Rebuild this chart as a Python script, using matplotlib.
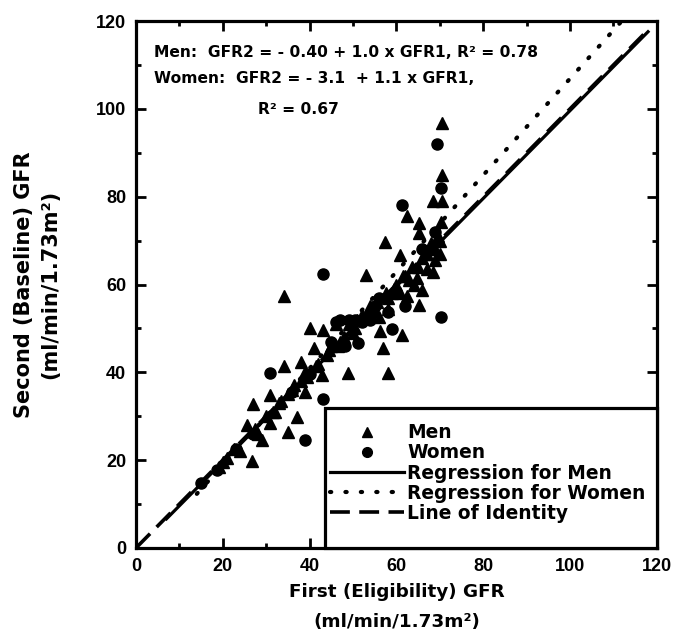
import matplotlib.pyplot as plt
from matplotlib.lines import Line2D
from matplotlib.patches import Rectangle
from matplotlib.ticker import MultipleLocator

plt.rcParams['font.family'] = ['DejaVu Sans']
plt.rcParams['font.weight'] = 'bold'

# Men (triangles): first GFR, second GFR
men_gfr1 = [24, 25.5, 26.7, 26.9, 28, 29, 30, 30.9, 30.9, 32, 33, 34.1, 34.1, 35, 35.1,
            36, 37, 37.9, 38.9, 38, 39, 40.1, 41.0, 42, 42.8, 43.2, 44, 45, 46, 47,
            48, 48.9, 49, 50, 51, 52, 53.1, 54, 55, 56.2, 57, 57.4, 58.1, 58, 59,
            60, 60.8, 61.2, 62, 62.4, 63, 64, 65.3, 65.3, 65.3, 65, 66, 67, 68.4, 68.5,
            69, 70.4, 70.4, 70.4, 70.3, 70, 21, 19,
            20, 22.5, 27.5, 31.5, 33.5, 36.5, 39.5, 41.5, 44.5, 46.5, 50.5, 53.5, 55.5,
            57.5, 59.5, 61.5, 63.5, 66.5, 68, 69.5,
            56, 58, 60.8, 62.4, 64.7, 65.8, 67, 69, 70]
men_gfr2 = [22, 28, 19.7, 32.8, 26, 24.6, 30, 28.5, 34.9, 31, 33, 41.5, 57.4, 35, 26.5,
            36, 29.8, 42.4, 35.6, 38, 40, 50.0, 45.5, 42, 39.4, 49.7, 44, 46, 51, 47,
            48, 39.8, 51, 49, 52, 53, 62.2, 55, 54, 49.5, 45.5, 69.8, 39.8, 57, 58,
            60, 66.7, 48.5, 62, 75.6, 61, 60, 55.3, 74.1, 71.7, 64, 66, 67, 79, 62.9,
            68, 79, 85, 96.7, 74.3, 70, 20.5, 18.5,
            19.5, 22.5, 27, 31, 33.5, 37, 39, 41.5, 45, 46, 50, 53.5, 56,
            58, 59, 62, 64, 67, 69.5, 71,
            52.5, 54.5, 58, 57.3, 61.4, 58.8, 63.5, 65.5, 67]

# Women (circles)
women_gfr1 = [15, 18.6, 30.9, 38.9, 43, 43, 45, 47, 48.2, 49, 50.5, 51.2, 52, 54,
              56, 58.1, 59.1, 61.2, 62, 66, 68.9, 69.3, 70.3, 70.3, 27, 23, 36, 40,
              46, 55]
women_gfr2 = [14.7, 17.8, 39.8, 24.6, 33.9, 62.4, 47, 52, 45.9, 52, 52, 46.6, 51.5, 52,
              57, 53.8, 49.8, 78.1, 55, 68, 72.0, 92.0, 81.9, 52.7, 26, 22.5, 35.5, 39.5,
              51.5, 55]

# fitted lines: GFR2 = a + b * GFR1
men_fit = (-0.40, 1.0)
women_fit = (-3.1, 1.1)
men_fit_x = [7, 118]
women_fit_x = [14, 112]
identity_x = [0, 118]

fig = plt.figure(figsize=(6.77, 6.43), dpi=100)
ax = fig.add_axes([0.201, 0.148, 0.769, 0.819])

ax.plot(men_gfr1, men_gfr2, linestyle='none', marker='^', ms=8.5, color='black', zorder=3)
ax.plot(women_gfr1, women_gfr2, linestyle='none', marker='o', ms=8, color='black', zorder=3)

ax.plot(men_fit_x, [men_fit[0] + men_fit[1] * x for x in men_fit_x],
        color='black', lw=2.3, zorder=2)
ax.plot(women_fit_x, [women_fit[0] + women_fit[1] * x for x in women_fit_x],
        color='black', lw=3.0, dashes=(0.3, 3.4), dash_capstyle='round', zorder=2)
ax.plot(identity_x, identity_x, color='black', lw=2.6, dashes=(5.5, 2.6), zorder=2)

ax.set_xlim(0, 120)
ax.set_ylim(0, 120)
ax.xaxis.set_major_locator(MultipleLocator(20))
ax.yaxis.set_major_locator(MultipleLocator(20))
ax.xaxis.set_minor_locator(MultipleLocator(10))
ax.yaxis.set_minor_locator(MultipleLocator(10))
ax.tick_params(which='both', direction='in', top=True, right=True, width=2)
ax.tick_params(which='major', length=7, pad=7)
ax.tick_params(which='minor', length=3.5)
for lab in ax.get_xticklabels() + ax.get_yticklabels():
    lab.set_fontfamily(['Liberation Sans', 'DejaVu Sans'])
    lab.set_fontsize(13)
    lab.set_fontweight('bold')
for s in ax.spines.values():
    s.set_linewidth(2.3)

ax.set_xlabel('First (Eligibility) GFR\n(ml/min/1.73m²)', fontsize=13.2, fontweight='bold',
              linespacing=1.85, labelpad=6)
ax.set_ylabel('Second (Baseline) GFR\n(ml/min/1.73m²)', fontsize=15, fontweight='bold',
              linespacing=1.35, labelpad=26)

ax.text(0.035, 0.941, 'Men:  GFR2 = - 0.40 + 1.0 x GFR1, R² = 0.78', transform=ax.transAxes,
        fontsize=11.2, va='center', ha='left')
ax.text(0.035, 0.892, 'Women:  GFR2 = - 3.1  + 1.1 x GFR1,', transform=ax.transAxes,
        fontsize=11.2, va='center', ha='left')
ax.text(0.235, 0.833, 'R² = 0.67', transform=ax.transAxes,
        fontsize=11.2, va='center', ha='left')

# legend box sits in the lower right corner of the axes
box = Rectangle((0.363, 0), 0.637, 0.266, transform=ax.transAxes, facecolor='white',
                edgecolor='black', lw=2.3, zorder=4, clip_on=False)
ax.add_patch(box)

handles = [
    Line2D([], [], linestyle='none', marker='^', ms=7, color='black'),
    Line2D([], [], linestyle='none', marker='o', ms=7, color='black'),
    Line2D([], [], color='black', lw=2.3),
    Line2D([], [], color='black', lw=3.0, dashes=(0.3, 3.4), dash_capstyle='round'),
    Line2D([], [], color='black', lw=2.6, dashes=(5.5, 2.6)),
]
labels = ['Men', 'Women', 'Regression for Men', 'Regression for Women', 'Line of Identity']
leg = ax.legend(handles, labels, loc='center left', bbox_to_anchor=(0.372, 0.142),
                borderaxespad=0, borderpad=0, frameon=False,
                handlelength=4.0, handletextpad=0.15, labelspacing=0.06,
                prop={'weight': 'bold', 'size': 13.4})
leg.set_zorder(5)

fig.savefig('out.png', dpi=100)
